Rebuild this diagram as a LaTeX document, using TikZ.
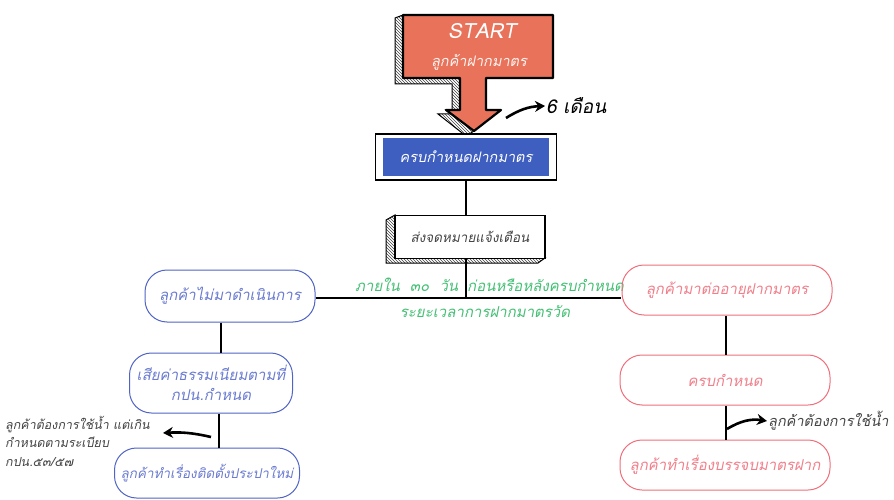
\documentclass[tikz,border=0pt]{standalone}
\usepackage{fontspec}
\newfontfamily\thai[Script=Thai]{Loma}
\newfontfamily\thaisl[Script=Thai,FakeSlant=0.2]{Loma}
\usetikzlibrary{arrows.meta,patterns,calc}
\definecolor{startor}{HTML}{E8735A}
\definecolor{boxblue}{HTML}{3F5FC0}
\definecolor{lblue}{HTML}{5064C4}
\definecolor{lbluetxt}{HTML}{6A7BD0}
\definecolor{lred}{HTML}{EE6F7B}
\definecolor{lredtxt}{HTML}{F07F8A}
\definecolor{tgreen}{HTML}{44BF74}
\definecolor{tgray}{HTML}{444444}
\tikzset{
  bluebox/.style={draw=lblue, line width=1pt, rounded corners=22pt, text=lbluetxt, font=\thaisl\fontsize{15}{20}\selectfont, align=center, inner sep=0pt},
  redbox/.style={draw=lred, line width=1pt, rounded corners=22pt, text=lredtxt, font=\thaisl\fontsize{15}{20}\selectfont, align=center, inner sep=0pt},
  conn/.style={line width=1.8pt, black},
  curvearrow/.style={line width=2.6pt, black, -{Stealth[length=10pt,width=11pt]}},
  greentxt/.style={text=tgreen, font=\thaisl\fontsize{15}{18}\selectfont, inner sep=0pt},
  notetxt/.style={text=tgray, font=\thaisl\fontsize{12.5}{18.5}\selectfont, inner sep=0pt, align=left},
  hatch/.style={pattern=north west lines, pattern color=black!75, draw=black, line width=1pt}
}
\begin{document}
\begin{tikzpicture}[x=1pt,y=-1pt]
\useasboundingbox (0,0) rectangle (894,500);
% START block arrow with extruded hatched side
\path[hatch] (395,18) -- (403,15) -- (403,78) -- (460,78) -- (460,110) -- (446,110) -- (474,131) -- (466,136) -- (438,114) -- (452,114) -- (452,84) -- (395,84) -- cycle;
\path[fill=startor, draw=black, line width=2.2pt, line join=round]
  (403,15) -- (553,15) -- (553,78) -- (486,78) -- (486,110) -- (501,110) -- (474,131) -- (446,110) -- (460,110) -- (460,78) -- (403,78) -- cycle;
\node[text=white, font=\thaisl\fontsize{21}{24}\selectfont] (start) at (482,31) {START};
\node[text=white!92!startor, font=\thaisl\fontsize{14.5}{18}\selectfont] (startsub) at (479,62) {ลูกค้าฝากมาตร};
% 6 months
\node[anchor=west, font=\thaisl\fontsize{19}{22}\selectfont, text=black, inner sep=1pt] (six) at (545,106) {6 เดือน};
\coordinate (sixfrom) at (506,118);
\draw[curvearrow] (sixfrom) to[bend left=15] (six.west);
% blue box
\node[draw=black, line width=1.8pt, fill=white, minimum width=181pt, minimum height=46pt, inner sep=0pt] (due) at (466,157) {};
\node[fill=boxblue, minimum width=166pt, minimum height=38pt, inner sep=0pt, text=white, font=\thaisl\fontsize{14.5}{18}\selectfont] (duetxt) at (466,157) {ครบกำหนดฝากมาตร};
% letter box
\path[hatch] (386,220) -- (395,215) -- (395,258) -- (545,258) -- (538,263) -- (386,263) -- cycle;
\node[draw=black, line width=1.5pt, fill=white, minimum width=150pt, minimum height=43pt, inner sep=0pt, text=tgray, font=\thaisl\fontsize{13.5}{16}\selectfont] (letter) at (470,237) {ส่งจดหมายแจ้งเตือน};
\coordinate (jx) at (466,298);
\draw[conn] (due.south -| jx) -- (letter.north -| jx);
\draw[conn] (letter.south -| jx) -- (jx);
% left branch
\node[bluebox, minimum width=170pt, minimum height=52pt] (noact) at (230,296) {ลูกค้าไม่มาดำเนินการ};
\coordinate (hr) at (621,298);
\draw[conn] (noact.east |- jx) -- (hr);
\node[bluebox, minimum width=163pt, minimum height=60pt] (fee) at (211,383) {เสียค่าธรรมเนียมตามที่\\กปน.กำหนด};
\node[bluebox, font=\thaisl\fontsize{13.5}{18}\selectfont, minimum width=185pt, minimum height=50pt] (newins) at (207,473) {ลูกค้าทำเรื่องติดตั้งประปาใหม่};
\coordinate (lx) at (221,0);
\draw[conn] (noact.south -| lx) -- (fee.north -| lx);
\coordinate (lx2) at (219,0);
\draw[conn] (fee.south -| lx2) -- (newins.north -| lx2);
\coordinate (lafrom) at (211,437);
\coordinate (lato) at (163,433);
\draw[curvearrow] (lafrom) to[bend right=8] (lato);
\node[notetxt, anchor=north west] (note) at (5,416) {ลูกค้าต้องการใช้น้ำ แต่เกิน\\กำหนดตามระเบียบ\\กปน.๕๓/๕๗};
% green labels
\node[greentxt, anchor=west] (g1) at (355,285) {ภายใน \ ๓๐ \ วัน};
\node[greentxt, anchor=west] (g2) at (467,285) {ก่อนหรือหลังครบกำหนด};
\node[greentxt] (g3) at (485,312) {ระยะเวลาการฝากมาตรวัด};
% right branch
\node[redbox, minimum width=210pt, minimum height=50pt] (renew) at (727,290) {ลูกค้ามาต่ออายุฝากมาตร};
\node[redbox, minimum width=210pt, minimum height=50pt] (due2) at (725,380) {ครบกำหนด};
\node[redbox, minimum width=210pt, minimum height=50pt] (merge) at (725,465) {ลูกค้าทำเรื่องบรรจบมาตรฝาก};
\coordinate (rx) at (726,0);
\draw[conn] (renew.south -| rx) -- (due2.north -| rx);
\draw[conn] (due2.south -| rx) -- (merge.north -| rx);
\node[anchor=west, text=tgray, font=\thaisl\fontsize{14.5}{18}\selectfont, inner sep=1pt] (want) at (767,421) {ลูกค้าต้องการใช้น้ำ};
\coordinate (rafrom) at (727,429);
\draw[curvearrow] (rafrom) to[bend left=20] (want.west);
\end{tikzpicture}
\end{document}
